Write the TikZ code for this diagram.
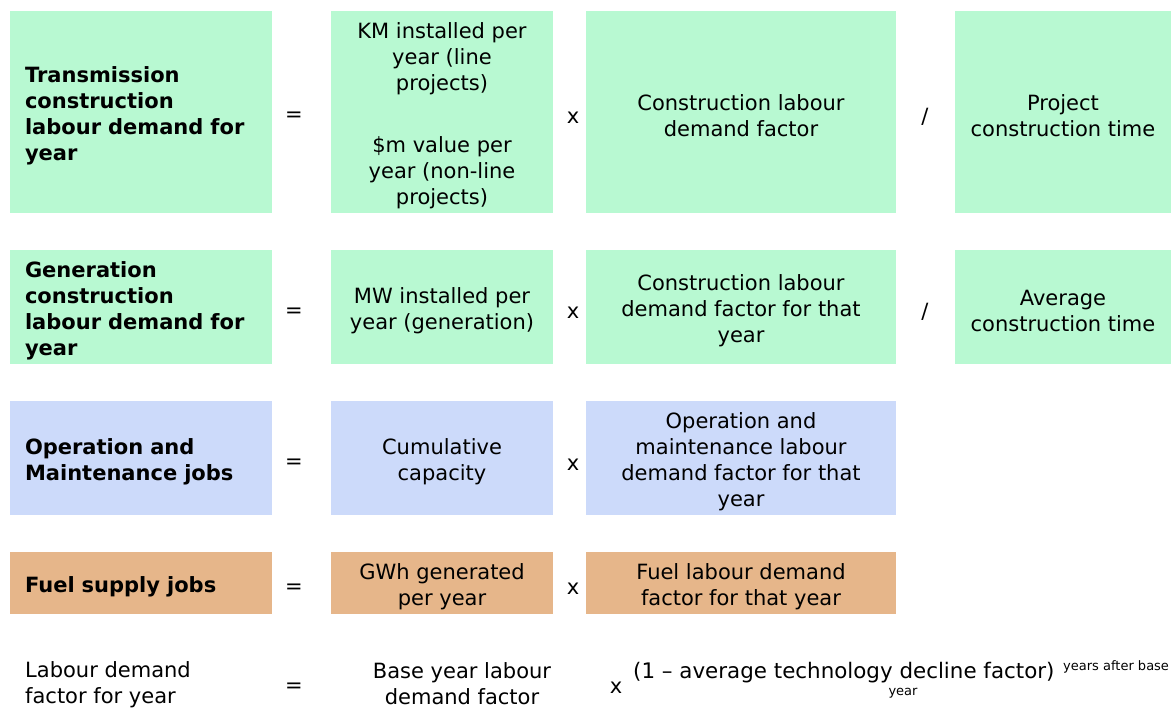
\documentclass[tikz,border=0pt]{standalone}
\usepackage{fontspec}
\setmainfont{DejaVu Sans}
\definecolor{gfill}{HTML}{B8F9D2}
\definecolor{bfill}{HTML}{CCDAFA}
\definecolor{ofill}{HTML}{E6B68A}
\tikzset{
  base/.style={inner sep=0pt, font=\fontsize{21pt}{26pt}\selectfont, text=black},
  cell/.style={base, align=center},
  lcell/.style={base, align=left, text width=232pt, font=\fontsize{21pt}{26pt}\selectfont\bfseries},
  box/.style={inner sep=0pt, minimum width=#1},
  gbox/.style={fill=gfill, draw=none},
  bbox/.style={fill=bfill, draw=none},
  obox/.style={fill=ofill, draw=none},
  op/.style={base},
  small/.style={inner sep=0pt, font=\fontsize{13pt}{15pt}\selectfont}
}
\begin{document}
\begin{tikzpicture}[x=1pt,y=-1pt]
\useasboundingbox[fill=white] (0,0) rectangle (1171,709);
% boxes
\node[box=262pt,gbox,minimum height=202pt] (t1b) at (141,112) {};
\node[box=222pt,gbox,minimum height=202pt] (t2b) at (442,112) {};
\node[box=310pt,gbox,minimum height=202pt] (t3b) at (741,112) {};
\node[box=216pt,gbox,minimum height=202pt] (t4b) at (1063,112) {};
\node[box=262pt,gbox,minimum height=114pt] (g1b) at (141,307) {};
\node[box=222pt,gbox,minimum height=114pt] (g2b) at (442,307) {};
\node[box=310pt,gbox,minimum height=114pt] (g3b) at (741,307) {};
\node[box=216pt,gbox,minimum height=114pt] (g4b) at (1063,307) {};
\node[box=262pt,bbox,minimum height=114pt] (o1b) at (141,458) {};
\node[box=222pt,bbox,minimum height=114pt] (o2b) at (442,458) {};
\node[box=310pt,bbox,minimum height=114pt] (o3b) at (741,458) {};
\node[box=262pt,obox,minimum height=62pt] (f1b) at (141,583) {};
\node[box=222pt,obox,minimum height=62pt] (f2b) at (442,583) {};
\node[box=310pt,obox,minimum height=62pt] (f3b) at (741,583) {};
% row 1 text
\node[lcell] (t1) at (141,116) {Transmission\\construction\\labour demand for\\year};
\node[cell] (t2) at (442,116) {KM installed per\\year (line\\projects)\\[36pt]\$m value per\\year (non-line\\projects)};
\node[cell] (t3) at (741,116) {Construction labour\\demand factor};
\node[cell] (t4) at (1063,116) {Project\\construction time};
\node[op] (t5) at (294,117) {=};
\node[op] (t6) at (573,118) {x};
\node[op] (t7) at (925,117) {/};
% row 2 text
\node[lcell] (g1) at (141,311) {Generation\\construction\\labour demand for\\year};
\node[cell] (g2) at (442,311) {MW installed per\\year (generation)};
\node[cell] (g3) at (741,311) {Construction labour\\demand factor for that\\year};
\node[cell] (g4) at (1063,311) {Average\\construction time};
\node[op] (g5) at (294,313) {=};
\node[op] (g6) at (573,313) {x};
\node[op] (g7) at (925,312) {/};
% row 3 text
\node[lcell] (o1) at (141,462) {Operation and\\Maintenance jobs};
\node[cell] (o2) at (442,462) {Cumulative\\capacity};
\node[cell] (o3) at (741,462) {Operation and\\maintenance labour\\demand factor for that\\year};
\node[op] (o5) at (294,464) {=};
\node[op] (o6) at (573,465) {x};
% row 4 text
\node[lcell] (f1) at (141,587) {Fuel supply jobs};
\node[cell] (f2) at (442,587) {GWh generated\\per year};
\node[cell] (f3) at (741,587) {Fuel labour demand\\factor for that year};
\node[op] (f5) at (294,589) {=};
\node[op] (f6) at (573,589) {x};
% row 5
\node[base,align=left,anchor=west] (l1) at (25,685) {Labour demand\\factor for year};
\node[op] (l5) at (294,688) {=};
\node[cell] (l2) at (462,684) {Base year labour\\demand factor};
\node[op] (l6) at (616,688) {x};
\node[base,anchor=west,font=\fontsize{21.4pt}{26pt}\selectfont] (l3) at (633,673) {(1 – average technology decline factor)};
\node[small,anchor=west] (l4) at (1063,667) {years after base};
\node[small] (l7) at (903,693) {year};
\end{tikzpicture}
\end{document}
